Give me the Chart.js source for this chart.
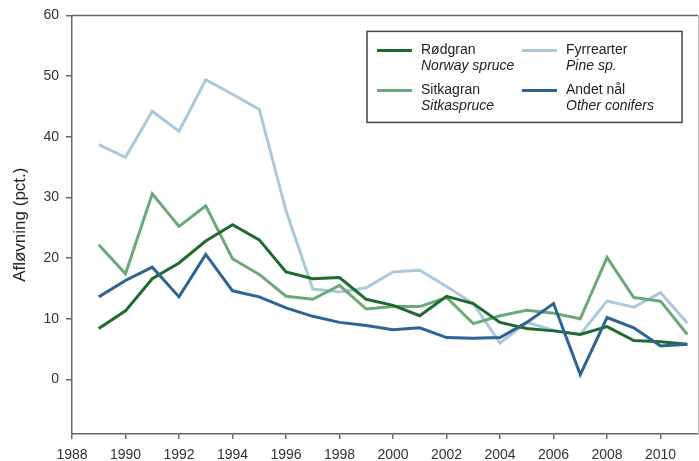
<!DOCTYPE html>
<html>
<head>
<meta charset="utf-8">
<script src="https://cdn.jsdelivr.net/npm/chart.js@4"></script>
<style>
html,body{margin:0;padding:0;background:#fff;}
#wrap{width:699px;height:461px;}
</style>
</head>
<body>
<div id="wrap"><canvas id="c" width="699" height="461"></canvas></div>
<script>
const years = [1989,1990,1991,1992,1993,1994,1995,1996,1997,1998,1999,2000,2001,2002,2003,2004,2005,2006,2007,2008,2009,2010,2011];
const rodgran    = [8.4,11.3,16.6,19.2,22.8,25.5,23.0,17.7,16.6,16.8,13.2,12.2,10.5,13.7,12.5,9.4,8.4,8.0,7.4,8.7,6.4,6.2,5.8];
const sitkagran  = [22.2,17.4,30.6,25.2,28.6,19.9,17.3,13.7,13.2,15.5,11.6,12.0,12.0,13.5,9.2,10.5,11.4,10.9,10.0,20.1,13.5,12.9,7.4];
const fyrrearter = [38.7,36.6,44.2,40.9,49.4,47.0,44.5,27.8,14.9,14.4,15.1,17.7,18.0,15.3,12.5,6.0,9.4,8.1,7.4,12.9,11.9,14.3,9.3];
const andetNal   = [13.6,16.3,18.5,13.6,20.6,14.6,13.6,11.8,10.4,9.4,8.9,8.2,8.5,6.9,6.8,6.9,9.4,12.5,0.8,10.2,8.5,5.5,5.8];
const xTicks = [1988,1990,1992,1994,1996,1998,2000,2002,2004,2006,2008,2010];
const yTicks = [0,10,20,30,40,50,60];
const seriesNames = ['Rødgran','Sitkagran','Fyrrearter','Andet nål'];
const seriesSubNames = ['Norway spruce','Sitkaspruce','Pine sp.','Other conifers'];
const seriesColors = ['#1f6b2f','#6da878','#abc9da','#2c6495'];
const yTitle = 'Afløvning (pct.)';

const FONT = '"Liberation Sans", Arial, sans-serif';
const seriesValues = [rodgran, sitkagran, fyrrearter, andetNal];

const datasets = seriesValues.map((vals, i) => ({
  label: seriesNames[i],
  data: years.map((yr, j) => ({x: yr, y: vals[j]})),
  borderColor: seriesColors[i],
  backgroundColor: seriesColors[i],
  borderWidth: 3,
  pointRadius: 0,
  tension: 0,
  fill: false
}));
const order = [2, 1, 0, 3];
datasets.forEach((d, i) => { d.order = 4 - order.indexOf(i); });

const framePlugin = {
  id: 'frame',
  afterDraw(chart) {
    const {ctx, chartArea: a} = chart;
    ctx.save();
    ctx.lineWidth = 1.5;
    ctx.strokeStyle = '#666';
    ctx.beginPath();
    ctx.moveTo(a.left, a.top);
    ctx.lineTo(a.right, a.top);
    ctx.stroke();
    ctx.strokeStyle = '#bbb';
    ctx.lineWidth = 1;
    ctx.beginPath();
    ctx.moveTo(a.right + 0.5, a.top);
    ctx.lineTo(a.right + 0.5, a.bottom);
    ctx.stroke();

    const bx = a.left + 295, by = a.top + 16, bw = 315, bh = 91;
    ctx.fillStyle = '#fff';
    ctx.fillRect(bx, by, bw, bh);
    ctx.strokeStyle = '#444';
    ctx.lineWidth = 1.5;
    ctx.strokeRect(bx, by, bw, bh);
    const items = [
      {i: 0, col: 0, row: 0},
      {i: 2, col: 1, row: 0},
      {i: 1, col: 0, row: 1},
      {i: 3, col: 1, row: 1}
    ];
    items.forEach(it => {
      const lx = bx + 10 + it.col * 145;
      const ly = by + 19 + it.row * 40;
      ctx.strokeStyle = seriesColors[it.i];
      ctx.lineWidth = 3;
      ctx.beginPath();
      ctx.moveTo(lx, ly);
      ctx.lineTo(lx + 35, ly);
      ctx.stroke();
      ctx.fillStyle = '#222';
      ctx.textBaseline = 'middle';
      ctx.textAlign = 'left';
      ctx.font = '14px ' + FONT;
      ctx.fillText(seriesNames[it.i], lx + 44, ly);
      ctx.font = 'italic 14px ' + FONT;
      ctx.fillText(seriesSubNames[it.i], lx + 44, ly + 16);
    });
    ctx.restore();
  }
};

new Chart(document.getElementById('c'), {
  type: 'line',
  data: {datasets},
  plugins: [framePlugin],
  options: {
    responsive: false,
    animation: false,
    devicePixelRatio: 1,
    layout: {padding: {top: 15, right: 1, left: 0, bottom: 0}},
    plugins: {legend: {display: false}, tooltip: {enabled: false}},
    scales: {
      x: {
        type: 'linear',
        min: 1988,
        max: 2011.4,
        afterBuildTicks: ax => { ax.ticks = xTicks.map(v => ({value: v})); },
        afterFit: ax => { ax.height = 27; },
        ticks: {
          callback: v => String(v),
          color: '#333',
          font: {family: FONT, size: 14},
          padding: 8,
          maxRotation: 0,
          autoSkip: false
        },
        grid: {display: true, drawOnChartArea: false, drawTicks: true, tickLength: 5, color: '#666', lineWidth: 1.5},
        border: {display: true, color: '#666', width: 1.5}
      },
      y: {
        type: 'linear',
        min: -9,
        max: 60,
        afterBuildTicks: ax => { ax.ticks = yTicks.map(v => ({value: v})); },
        afterFit: ax => { ax.width = 72; },
        ticks: {
          color: '#333',
          font: {family: FONT, size: 14},
          padding: 7
        },
        grid: {display: true, drawOnChartArea: false, drawTicks: true, tickLength: 6, color: '#666', lineWidth: 1.5},
        border: {display: true, color: '#666', width: 1.5},
        title: {
          display: true,
          text: yTitle,
          color: '#222',
          font: {family: FONT, size: 17},
          padding: {top: 10, bottom: 0}
        }
      }
    }
  }
});
</script>
</body>
</html>
